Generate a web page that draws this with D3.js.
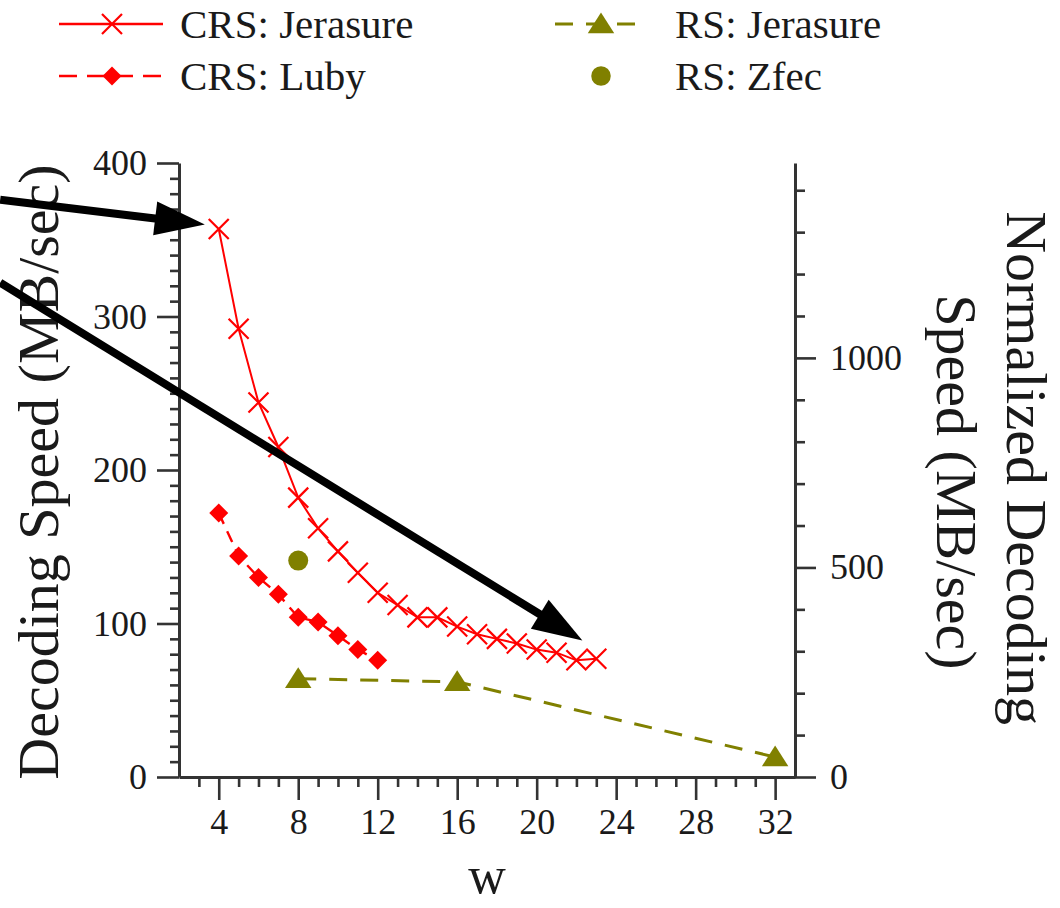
<!DOCTYPE html>
<html>
<head>
<meta charset="utf-8">
<script src="https://cdn.jsdelivr.net/npm/d3@7"></script>
<style>
  body { margin: 0; background: #fff; }
  svg text { font-family: "Liberation Serif", "Times New Roman", serif; fill: #1a1a1a; }
</style>
</head>
<body>
<svg id="decodeChart"></svg>
<script>
// values
let crsJerasureW = [4, 5, 6, 7, 8, 9, 10, 11, 12, 13, 14, 15, 16, 17, 18, 19, 20, 21, 22, 23];
let crsJerasureSpeed = [357, 292, 244, 215, 182, 162, 147, 133, 120, 112, 104, 104, 98, 93, 90, 87, 83, 81, 76, 77];
let crsLubyW = [4, 5, 6, 7, 8, 9, 10, 11, 12];
let crsLubySpeed = [172, 144, 130, 119, 104, 101, 92, 83, 76];
let rsJerasureW = [8, 16, 32];
let rsJerasureSpeed = [64, 62, 13];
let rsZfecW = [8];
let rsZfecSpeed = [141];

let seriesNames = ["CRS: Jerasure", "CRS: Luby", "RS: Jerasure", "RS: Zfec"];
let xTickLabels = [4, 8, 12, 16, 20, 24, 28, 32];
let leftTickLabels = [0, 100, 200, 300, 400];
let rightTickLabels = [0, 500, 1000];

// annotation arrows, in data units [w, MB/sec]
let arrowStarts = [[-7.0, 376], [-7.0, 322]];
let arrowEnds = [[3.3, 360], [22.3, 89]];

// svg size
let widthSVG = 1060;
let heightSVG = 908;
let red = "#f00";
let olive = "#808000";
let axisColor = "#333";

let SVG = d3.select('svg#decodeChart')
            .attr("width", widthSVG)
            .attr("height", heightSVG);

// scales
let x = d3.scaleLinear().domain([2, 33]).range([179, 795]);
let y = d3.scaleLinear().domain([0, 400]).range([777, 163]);
let yRight = d3.scaleLinear().domain([0, 1465]).range([777, 163]);

function styleAxis(g, fontSize) {
  g.selectAll('path.domain').attr('stroke', axisColor).attr('stroke-width', 3);
  g.selectAll('.tick line').attr('stroke', axisColor).attr('stroke-width', 2.6);
  g.selectAll('.tick text').style('font-size', fontSize + 'px')
    .style('font-family', '"Liberation Serif", serif').style('fill', '#1a1a1a');
  g.attr('font-size', null).attr('font-family', null);
}

// x axis: minor then major
let xMinor = d3.range(3, 33).filter(v => v % 4 != 0);
SVG.append('g')
  .attr('transform', `translate(0, ${y(0)})`)
  .call(d3.axisBottom(x).tickValues(xMinor).tickSize(10).tickSizeOuter(0).tickFormat(''))
  .call(g => g.select('path.domain').remove())
  .call(g => styleAxis(g, 36));

SVG.append('g')
  .attr('transform', `translate(0, ${y(0)})`)
  .call(d3.axisBottom(x).tickValues(xTickLabels).tickSize(23).tickSizeOuter(0).tickPadding(8))
  .call(g => styleAxis(g, 36));

// left axis
let leftMinor = d3.range(0, 401, 10).filter(v => v % 100 != 0);
SVG.append('g')
  .attr('transform', `translate(${x(2)}, 0)`)
  .call(d3.axisLeft(y).tickValues(leftMinor).tickSize(9).tickSizeOuter(0).tickFormat(''))
  .call(g => g.select('path.domain').remove())
  .call(g => styleAxis(g, 36));

SVG.append('g')
  .attr('transform', `translate(${x(2)}, 0)`)
  .call(d3.axisLeft(y).tickValues(leftTickLabels).tickSize(22).tickSizeOuter(0).tickPadding(10))
  .call(g => styleAxis(g, 36));

// right axis
let rightMinor = d3.range(0, 1401, 100).filter(v => v % 500 != 0);
SVG.append('g')
  .attr('transform', `translate(${x(33)}, 0)`)
  .call(d3.axisRight(yRight).tickValues(rightMinor).tickSize(10).tickSizeOuter(0).tickFormat(''))
  .call(g => g.select('path.domain').remove())
  .call(g => styleAxis(g, 36));

SVG.append('g')
  .attr('transform', `translate(${x(33)}, 0)`)
  .call(d3.axisRight(yRight).tickValues(rightTickLabels).tickSize(21).tickSizeOuter(0)
          .tickPadding(14).tickFormat(d3.format('d')))
  .call(g => styleAxis(g, 36));

// axis titles
SVG.append('text')
  .attr('transform', `translate(58, ${(y(0) + y(400)) / 2 + 2}) rotate(-90)`)
  .style('text-anchor', 'middle')
  .style('font-size', '58px')
  .text('Decoding Speed (MB/sec)');

let rightTitle = SVG.append('g')
  .attr('transform', `translate(1007, 468) rotate(90)`);
rightTitle.append('text')
  .style('text-anchor', 'middle')
  .style('font-size', '58px')
  .text('Normalized Decoding');
rightTitle.append('text')
  .attr('x', 14)
  .attr('y', 70)
  .style('text-anchor', 'middle')
  .style('font-size', '58px')
  .text('Speed (MB/sec)');

SVG.append('text')
  .attr('x', (x(2) + x(33)) / 2)
  .attr('y', 893)
  .style('text-anchor', 'middle')
  .style('font-size', '52px')
  .text('w');

// marker shapes
function crossPath(s) { return `M${-s},${-s}L${s},${s}M${-s},${s}L${s},${-s}`; }
function diamondPath(s) { return `M0,${-s}L${s},0L0,${s}L${-s},0Z`; }
function trianglePath(s) { return `M0,${-s}L${s * 1.15},${s * 0.8}L${-s * 1.15},${s * 0.8}Z`; }

let line = d3.line().x(d => x(d[0])).y(d => y(d[1]));

// CRS: Jerasure
let jerData = d3.zip(crsJerasureW, crsJerasureSpeed);
SVG.append('path')
  .datum(jerData)
  .attr('d', line)
  .style('fill', 'none')
  .style('stroke', red)
  .style('stroke-width', '2px');
SVG.selectAll('path.jerMark')
  .data(jerData)
  .enter()
  .append('path')
  .attr('class', 'jerMark')
  .attr('transform', d => `translate(${x(d[0])}, ${y(d[1])})`)
  .attr('d', crossPath(10))
  .style('fill', 'none')
  .style('stroke', red)
  .style('stroke-width', '2.2px');

// CRS: Luby
let lubyData = d3.zip(crsLubyW, crsLubySpeed);
SVG.append('path')
  .datum(lubyData)
  .attr('d', line)
  .style('fill', 'none')
  .style('stroke', red)
  .style('stroke-width', '2.4px')
  .style('stroke-dasharray', '12,8');
SVG.selectAll('path.lubyMark')
  .data(lubyData)
  .enter()
  .append('path')
  .attr('class', 'lubyMark')
  .attr('transform', d => `translate(${x(d[0])}, ${y(d[1])})`)
  .attr('d', diamondPath(9.5))
  .style('fill', red);

// RS: Jerasure
let rsData = d3.zip(rsJerasureW, rsJerasureSpeed);
SVG.append('path')
  .datum(rsData)
  .attr('d', line)
  .style('fill', 'none')
  .style('stroke', olive)
  .style('stroke-width', '3px')
  .style('stroke-dasharray', '18,13');
SVG.selectAll('path.rsMark')
  .data(rsData)
  .enter()
  .append('path')
  .attr('class', 'rsMark')
  .attr('transform', d => `translate(${x(d[0])}, ${y(d[1])})`)
  .attr('d', trianglePath(11.5))
  .style('fill', olive);

// RS: Zfec
SVG.selectAll('circle.zfec')
  .data(d3.zip(rsZfecW, rsZfecSpeed))
  .enter()
  .append('circle')
  .attr('class', 'zfec')
  .attr('cx', d => x(d[0]))
  .attr('cy', d => y(d[1]))
  .attr('r', 10)
  .style('fill', olive);

// legend
let legendItems = [
  { name: seriesNames[0], color: red, dash: null, shape: 'cross', lx: 59, row: 0 },
  { name: seriesNames[1], color: red, dash: '18,10', shape: 'diamond', lx: 59, row: 1 },
  { name: seriesNames[2], color: olive, dash: '18,13', shape: 'triangle', lx: 555, row: 0 },
  { name: seriesNames[3], color: olive, dash: null, shape: 'circle', lx: 555, row: 1 }
];
let legendG = SVG.selectAll('g.legendItem')
  .data(legendItems)
  .enter()
  .append('g')
  .attr('class', 'legendItem')
  .attr('transform', d => `translate(${d.lx}, ${24 + d.row * 52})`);

legendG.filter(d => d.shape != 'circle')
  .append('line')
  .attr('x1', 0)
  .attr('x2', d => d.lx < 300 ? 104 : 88)
  .style('stroke', d => d.color)
  .style('stroke-width', d => d.shape == 'triangle' ? '3px' : '2.4px')
  .style('stroke-dasharray', d => d.dash);

legendG.append('path')
  .attr('transform', d => `translate(${d.lx < 300 ? 53 : 46}, 0)`)
  .attr('d', d => d.shape == 'cross' ? crossPath(10) : d.shape == 'diamond' ? diamondPath(9.5)
                  : d.shape == 'triangle' ? trianglePath(11.5) : d3.symbol().type(d3.symbolCircle).size(300)())
  .style('fill', d => d.shape == 'cross' ? 'none' : d.color)
  .style('stroke', d => d.shape == 'cross' ? d.color : 'none')
  .style('stroke-width', '2.2px');

legendG.append('text')
  .attr('x', d => d.lx < 300 ? 121 : 120)
  .attr('y', 14)
  .style('font-size', '41px')
  .text(d => d.name);

// annotation arrows
let headLen = 50, headHalf = 17;
arrowStarts.forEach((s, i) => {
  let x0 = x(s[0]), y0 = y(s[1]);
  let x1 = x(arrowEnds[i][0]), y1 = y(arrowEnds[i][1]);
  let len = Math.hypot(x1 - x0, y1 - y0);
  let ux = (x1 - x0) / len, uy = (y1 - y0) / len;
  let bx = x1 - ux * headLen, by = y1 - uy * headLen;
  SVG.append('line')
    .attr('x1', x0).attr('y1', y0)
    .attr('x2', bx + ux * 2).attr('y2', by + uy * 2)
    .style('stroke', '#000')
    .style('stroke-width', '8px');
  SVG.append('path')
    .attr('d', `M${x1},${y1}L${bx - uy * headHalf},${by + ux * headHalf}L${bx + uy * headHalf},${by - ux * headHalf}Z`)
    .style('fill', '#000');
});
</script>
</body>
</html>
